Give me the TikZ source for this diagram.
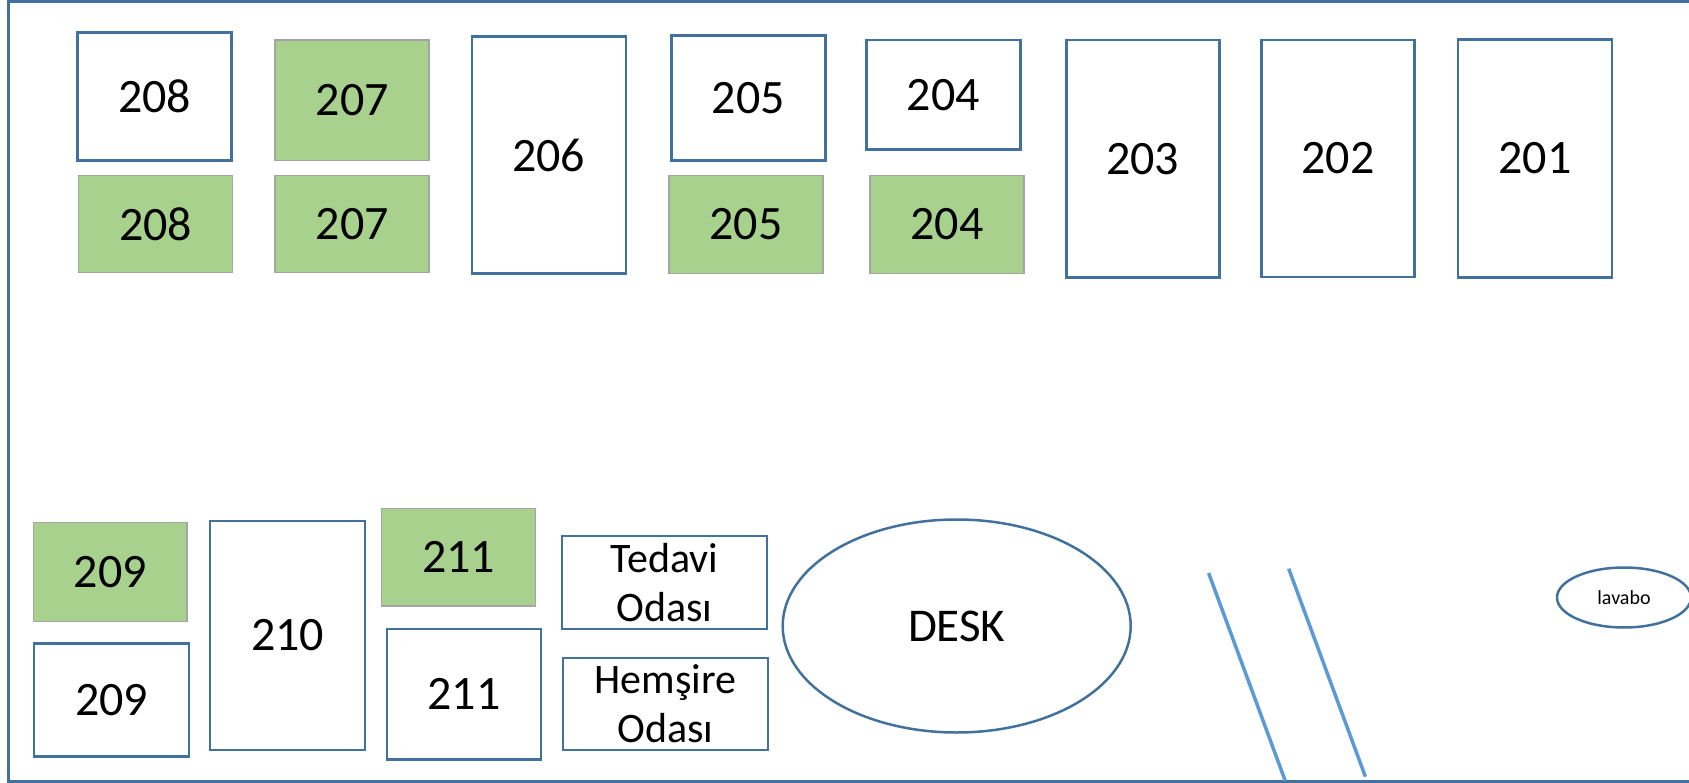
\documentclass[tikz,border=0pt]{standalone}
\usepackage{fontspec}
\setmainfont{Carlito}
\usepackage[svgnames, dvipsnames]{xcolor}
\usetikzlibrary{calc, shapes.geometric, arrows.meta}
\definecolor{RoomBlue}{HTML}{41719C}
\definecolor{BedGreen}{HTML}{A9D18E}
\definecolor{BedGray}{HTML}{A5A5A5}
\definecolor{DoorBlue}{HTML}{5B9BD5}

\begin{document}
\begin{tikzpicture}[x=1pt, y=-1pt,
  room/.style={draw=RoomBlue, line width=2.5pt, fill=white, inner sep=0pt,
    minimum width=154pt, font=\fontsize{48}{58}\selectfont},
  bed/.style={room, draw=BedGray, line width=1.5pt, fill=BedGreen},
  office/.style={room, align=center, minimum width=205pt, font=\fontsize{42}{49}\selectfont},
  oval/.style={ellipse, draw=RoomBlue, line width=2.5pt, inner sep=0pt},
  door/.style={DoorBlue, line width=3.5pt}]
\useasboundingbox (0,0) rectangle (1689,783);
\draw[RoomBlue, line width=3pt] (8.5,1.5) rectangle (1720,781.5);

\node[room, minimum height=128pt] (r208) at (154.6,96.4) {208};
\node[bed, minimum height=97pt] (b208) at (155.6,224) {208};
\node[bed, minimum height=120.6pt] (b207a) at (352.2,100.2) {207};
\node[bed, minimum height=97pt] (b207b) at (352.2,224) {207};
\node[room, minimum height=237pt] (r206) at (548.8,155.1) {206};
\node[room, minimum height=125pt] (r205) at (748.3,98.2) {205};
\node[bed, minimum height=97.6pt] (b205) at (746,224.5) {205};
\node[room, minimum height=109.3pt] (r204) at (943.4,94.7) {204};
\node[bed, minimum height=97.6pt] (b204) at (947,224.5) {204};
\node[room, minimum width=153pt, minimum height=237.3pt] (r203) at (1142.8,158.7) {203};
\node[room, minimum width=153pt, minimum height=237pt] (r202) at (1337.9,158.4) {202};
\node[room, minimum height=238pt] (r201) at (1535,158.3) {201};

\node[bed, minimum width=153.5pt, minimum height=99pt] (b209) at (110.3,572.2) {209};
\node[room, minimum width=155pt, minimum height=112.6pt] (r209) at (111.5,700) {209};
\node[room, minimum width=155pt, minimum height=229pt] (r210) at (287.5,635.5) {210};
\node[bed, minimum height=97.7pt] (b211) at (458.6,557.2) {211};
\node[room, minimum height=130.3pt] (r211) at (464.1,694.2) {211};
\node[office, minimum height=93pt] (tedavi) at (664.5,582.5) {Tedavi\\Odası};
\node[office, minimum height=92pt] (hemsire) at (665.5,704) {Hemşire\\Odası};
\node[oval, minimum width=348pt, minimum height=213pt, font=\fontsize{47}{56}\selectfont] (desk) at (956.7,626) {DESK};
\node[oval, minimum width=134pt, minimum height=60pt, font=\fontsize{20}{24}\selectfont] (lavabo) at (1624,597.5) {lavabo};

\draw[door] (1208.6,573) -- (1285.3,781);
\draw[door] (1288.7,568.7) -- (1365.4,776.7);
\end{tikzpicture}
\end{document}
